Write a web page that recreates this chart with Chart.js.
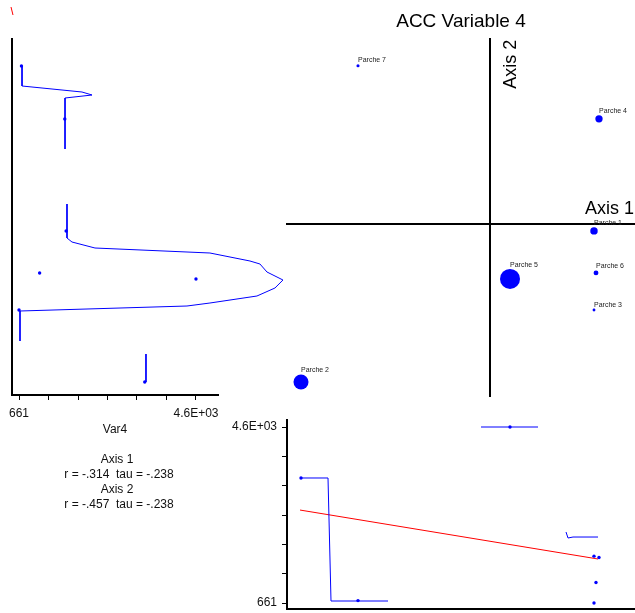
<!DOCTYPE html>
<html>
<head>
<meta charset="utf-8">
<script src="https://cdn.jsdelivr.net/npm/chart.js@4/dist/chart.umd.min.js"></script>
<style>
  html, body { margin: 0; padding: 0; background: #ffffff; }
  #board { position: relative; width: 635px; height: 613px; }
  #board canvas { position: absolute; left: 0; top: 0; }
</style>
</head>
<body>
<div id="board">
  <canvas id="sideChart" width="635" height="613"></canvas>
  <canvas id="lowerChart" width="635" height="613"></canvas>
  <canvas id="mainChart" width="635" height="613"></canvas>
</div>
<script>
// ---- data -------------------------------------------------------------
const chartTitle = 'ACC Variable 4';
const axisNames = ['Axis 1', 'Axis 2'];
const variableName = 'Var4';

const parcelNames = ['Parche 1', 'Parche 2', 'Parche 3', 'Parche 4', 'Parche 5', 'Parche 6', 'Parche 7'];
const axis1Scores = [1.04, -1.89, 1.04, 1.09, 0.20, 1.06, -1.32];
const axis2Scores = [-0.07, -1.58, -0.86, 1.05, -0.55, -0.49, 1.58];
const var4Values  = [1710, 3460, 661, 1680, 4600, 1120, 715];

// Var4 axis: labelled ends and tick count
const var4Range = [661, 4600];
const var4TickLabels = ['661', '4.6E+03'];
const var4TickCount = 7;

// correlation summary printed under the side panel
const statsLines = ['Axis 1', 'r = -.314  tau = -.238', 'Axis 2', 'r = -.457  tau = -.238'];

// smoothed traces of Var4 against Axis 2 (x = Var4, y = Axis 2)
const sideSmoothUpper = [
  {x: 728, y: 1.58}, {x: 728, y: 1.38}, {x: 2063, y: 1.32}, {x: 2286, y: 1.29},
  {x: 1685, y: 1.26}, {x: 1685, y: 0.75}
];
const sideSmoothMiddle = [
  {x: 1729, y: 0.20}, {x: 1729, y: -0.14}, {x: 1840, y: -0.18}, {x: 2352, y: -0.24},
  {x: 4911, y: -0.29}, {x: 5802, y: -0.37}, {x: 6024, y: -0.40}, {x: 6180, y: -0.48},
  {x: 6536, y: -0.56}, {x: 6358, y: -0.64}, {x: 5957, y: -0.72}, {x: 4911, y: -0.79},
  {x: 4400, y: -0.82}, {x: 683, y: -0.87}, {x: 683, y: -1.17}
];
const sideSmoothLower = [{x: 3487, y: -1.30}, {x: 3487, y: -1.58}];
const sideFit = [{x: 483, y: 2.17}, {x: 527, y: 2.09}];

// smoothed traces of Var4 against Axis 1 (x = Axis 1, y = Var4)
const lowerSmoothLeft  = [{x: -1.90, y: 3459}, {x: -1.62, y: 3459}, {x: -1.59, y: 706}, {x: -1.02, y: 706}];
const lowerSmoothTop   = [{x: -0.09, y: 4600}, {x: 0.48, y: 4600}];
const lowerSmoothRight = [{x: 0.76, y: 2250}, {x: 0.78, y: 2116}, {x: 0.83, y: 2138}, {x: 1.08, y: 2138}];
const lowerFit = [{x: -1.90, y: 2742}, {x: 1.08, y: 1646}];

// ---- styling ----------------------------------------------------------
const FONT = "'Liberation Sans', Arial, Helvetica, sans-serif";
const BLUE = '#0000ff';
const RED = '#ff0000';
const INK = '#000000';
const TEXT = '#111111';

Chart.defaults.font.family = FONT;
Chart.defaults.color = TEXT;

const baseOptions = {
  responsive: false,
  animation: false,
  devicePixelRatio: 1,
  events: [],
  plugins: { legend: { display: false }, tooltip: { enabled: false } }
};

function var4TickList() {
  const [lo, hi] = var4Range;
  return Array.from({ length: var4TickCount }, (_, k) => ({ value: lo + (hi - lo) * k / (var4TickCount - 1) }));
}
function var4TickText(value, index, ticks) {
  if (index === 0) return var4TickLabels[0];
  if (index === ticks.length - 1) return var4TickLabels[1];
  return '';
}
// fixed axis box sizes so the plot areas line up across the three panels
function fixHeight(h) {
  return s => { s.height = h; s.paddingLeft = 0; s.paddingRight = 0; s.paddingTop = 0; s.paddingBottom = 0; };
}
function fixWidth(w) {
  return s => { s.width = w; s.paddingLeft = 0; s.paddingRight = 0; s.paddingTop = 0; s.paddingBottom = 0; };
}
function traceDataset(points, color) {
  return {
    data: points, showLine: true, borderColor: color, borderWidth: 1,
    pointRadius: 0, tension: 0, clip: false
  };
}
function textPlugin(id, items) {
  return {
    id,
    afterDraw(chart) {
      const ctx = chart.ctx;
      ctx.save();
      items.forEach(t => {
        ctx.font = `${t.size}px ${FONT}`;
        ctx.fillStyle = TEXT;
        ctx.textAlign = t.align || 'center';
        ctx.textBaseline = 'middle';
        ctx.fillText(t.text, t.x, t.y);
      });
      ctx.restore();
    }
  };
}

// ---- ordination panel -------------------------------------------------
const maxVar4 = Math.max(...var4Values);
const parcelPoints = parcelNames.map((name, i) => ({ x: axis1Scores[i], y: axis2Scores[i], v: var4Values[i] }));

const ordinationLabels = {
  id: 'ordinationLabels',
  afterDatasetsDraw(chart) {
    const ctx = chart.ctx;
    const meta = chart.getDatasetMeta(0);
    ctx.save();
    ctx.fillStyle = '#222222';
    ctx.font = `7px ${FONT}`;
    ctx.textAlign = 'left';
    ctx.textBaseline = 'alphabetic';
    meta.data.forEach((pt, i) => {
      ctx.fillText(parcelNames[i], pt.x, pt.y - pt.options.radius - 2);
    });
    const ox = chart.scales.x.getPixelForValue(0);
    const oy = chart.scales.y.getPixelForValue(0);
    ctx.fillStyle = INK;
    ctx.font = `18px ${FONT}`;
    ctx.textAlign = 'right';
    ctx.fillText(axisNames[0], chart.chartArea.right - 1, oy - 10);
    ctx.translate(ox + 26, chart.chartArea.top + 1);
    ctx.rotate(-Math.PI / 2);
    ctx.textAlign = 'right';
    ctx.fillText(axisNames[1], 0, 0);
    ctx.restore();
  }
};

new Chart(document.getElementById('mainChart'), {
  type: 'scatter',
  data: {
    datasets: [{
      data: parcelPoints,
      backgroundColor: BLUE,
      borderWidth: 0,
      pointBorderWidth: 0,
      pointRadius: ctx => 10 * ctx.raw.v / maxVar4
    }]
  },
  options: {
    ...baseOptions,
    layout: { autoPadding: false, padding: { left: 287, right: 0, top: 0, bottom: 217 } },
    plugins: {
      ...baseOptions.plugins,
      title: {
        display: true, text: chartTitle, color: INK,
        font: { size: 19, weight: 'normal', family: FONT },
        padding: { top: 10, bottom: 6 }
      }
    },
    scales: {
      x: {
        type: 'linear', min: -2.03, max: 1.45, bounds: 'data', position: { y: 0 },
        grid: { display: false }, ticks: { display: false },
        border: { display: true, color: INK, width: 2 }
      },
      y: {
        type: 'linear', min: -1.72, max: 1.85, bounds: 'data', position: { x: 0 },
        grid: { display: false }, ticks: { display: false },
        border: { display: true, color: INK, width: 2 }
      }
    }
  },
  plugins: [ordinationLabels]
});

// ---- side panel: Var4 against Axis 2 ---------------------------------
new Chart(document.getElementById('sideChart'), {
  type: 'scatter',
  data: {
    datasets: [
      {
        data: parcelNames.map((n, i) => ({ x: var4Values[i], y: axis2Scores[i] })),
        backgroundColor: BLUE, pointBorderWidth: 0, pointRadius: 1.7
      },
      traceDataset(sideSmoothUpper, BLUE),
      traceDataset(sideSmoothMiddle, BLUE),
      traceDataset(sideSmoothLower, BLUE),
      traceDataset(sideFit, RED)
    ]
  },
  options: {
    ...baseOptions,
    layout: { autoPadding: false, padding: { left: 12, right: 417, top: 39, bottom: 188 } },
    scales: {
      x: {
        type: 'linear', position: 'bottom', min: 505, max: 5090, bounds: 'data',
        afterFit: fixHeight(30),
        afterBuildTicks: s => { s.ticks = var4TickList(); },
        grid: { display: true, drawOnChartArea: false, drawTicks: true, tickLength: 5, color: INK, tickColor: INK, tickWidth: 1 },
        border: { display: true, color: INK, width: 2 },
        ticks: { autoSkip: false, maxRotation: 0, padding: 6, color: TEXT, font: { size: 12 }, callback: var4TickText }
      },
      y: {
        type: 'linear', position: 'left', min: -1.71, max: 1.85, bounds: 'data',
        afterFit: fixWidth(0),
        grid: { display: false }, ticks: { display: false },
        border: { display: true, color: INK, width: 2 }
      }
    }
  },
  plugins: [textPlugin('sideText', [
    { text: variableName, x: 115, y: 430, size: 12 },
    { text: statsLines[0], x: 117, y: 460, size: 12 },
    { text: statsLines[1], x: 119, y: 475, size: 12 },
    { text: statsLines[2], x: 117, y: 490, size: 12 },
    { text: statsLines[3], x: 119, y: 505, size: 12 }
  ])]
});

// ---- lower panel: Var4 against Axis 1 --------------------------------
new Chart(document.getElementById('lowerChart'), {
  type: 'scatter',
  data: {
    datasets: [
      {
        data: parcelNames.map((n, i) => ({ x: axis1Scores[i], y: var4Values[i] })),
        backgroundColor: BLUE, pointBorderWidth: 0, pointRadius: 1.7
      },
      traceDataset(lowerSmoothLeft, BLUE),
      traceDataset(lowerSmoothTop, BLUE),
      traceDataset(lowerSmoothRight, BLUE),
      traceDataset(lowerFit, RED)
    ]
  },
  options: {
    ...baseOptions,
    layout: { autoPadding: false, padding: { left: 217, right: 0, top: 420, bottom: 4 } },
    scales: {
      x: {
        type: 'linear', position: 'bottom', min: -2.03, max: 1.45, bounds: 'data',
        afterFit: fixHeight(0),
        grid: { display: false }, ticks: { display: false },
        border: { display: true, color: INK, width: 2 }
      },
      y: {
        type: 'linear', position: 'left', min: 527, max: 4757, bounds: 'data',
        afterFit: fixWidth(70),
        afterBuildTicks: s => { s.ticks = var4TickList(); },
        grid: { display: true, drawOnChartArea: false, drawTicks: true, tickLength: 5, color: INK, tickColor: INK, tickWidth: 1 },
        border: { display: true, color: INK, width: 2 },
        ticks: { autoSkip: false, padding: 5, color: TEXT, font: { size: 12 }, callback: var4TickText }
      }
    }
  }
});
</script>
</body>
</html>
